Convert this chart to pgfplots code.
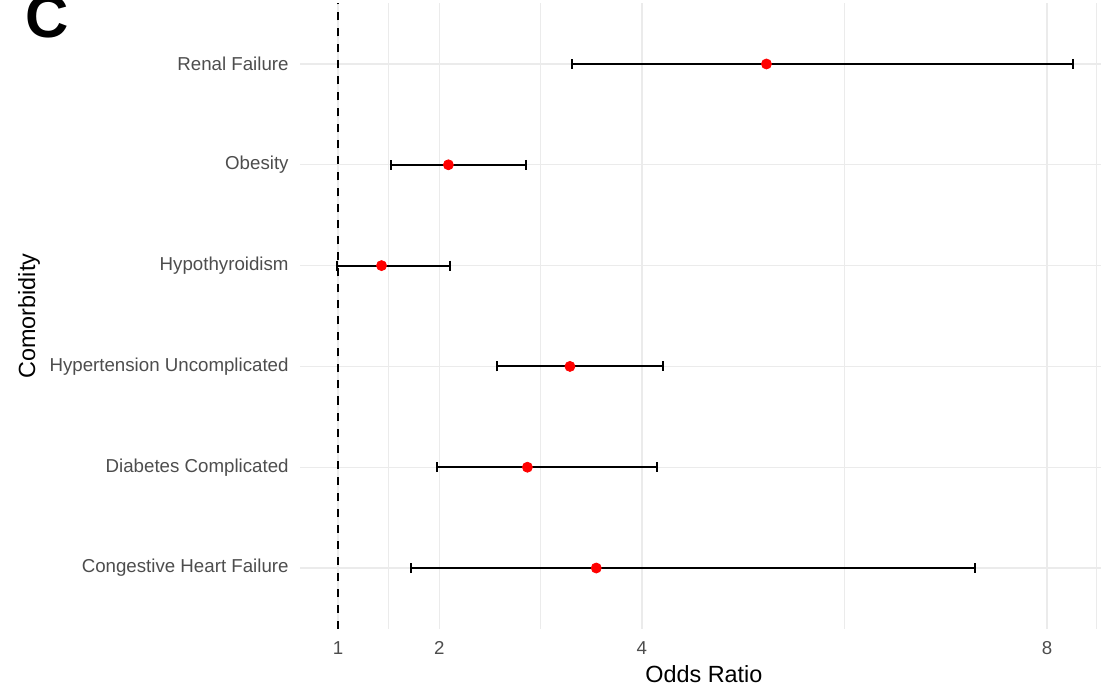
\documentclass[border=0pt]{standalone}
\usepackage{pgfplots}
\pgfplotsset{compat=1.18}
\usepackage{pgfplotstable}
\usepackage{fontspec}
\setmainfont{Liberation Sans}
\definecolor{gridc}{HTML}{EBEBEB}
\definecolor{tickc}{HTML}{4D4D4D}
\pgfplotstableread{
y or lo hi
1 3.55 1.72 7.29
2 2.87 1.98 4.15
3 3.29 2.57 4.21
4 1.43 0.99 2.11
5 2.09 1.52 2.86
6 5.23 3.31 8.26
}\datatab
\begin{document}
\begin{tikzpicture}
\begin{axis}[
  name=ax,
  scale only axis,
  width=403.9pt, height=312.5pt,
  xmin=0.625, xmax=8.6, ymin=0.4, ymax=6.6,
  axis line style={draw=none},
  major tick length=0pt, minor tick length=0pt,
  xtick={1,2,4,8}, xticklabels={1,2,4,8},
  minor xtick={1.5,3,6,8.49},
  ytick={1,2,3,4,5,6},
  yticklabels={Congestive Heart Failure,Diabetes Complicated,Hypertension Uncomplicated,Hypothyroidism,Obesity,Renal Failure},
  grid=both,
  major grid style={draw=gridc, line width=0.7pt},
  minor grid style={draw=gridc, line width=0.55pt},
  ytick style={draw=none}, xtick style={draw=none},
  tick label style={font=\fontsize{9.35}{11}\selectfont, color=tickc, inner sep=0pt},
  xticklabel style={anchor=north, yshift=-6.25pt},
  yticklabel style={anchor=east, xshift=-5.5pt},
  xlabel={Odds Ratio},
  ylabel={Comorbidity},
  label style={font=\fontsize{11.7}{13}\selectfont, color=black, inner sep=0pt},
  xlabel style={at={(axis description cs:0.5,-0.0584)}, anchor=north},
  ylabel style={at={(axis description cs:-0.3214,0.5)}, anchor=south},
  clip=false,
]
\addplot[black, line width=1.1pt, dash pattern=on 4pt off 4pt] coordinates {(1,0.4) (1,6.6)};
\addplot[black, line width=1pt, draw=none, mark=none,
  error bars/.cd, x dir=both, x explicit,
  error bar style={line width=1pt, black},
  error mark options={black, mark size=2.5pt, line width=1pt, rotate=90}]
  table[x=or, y=y, x error plus expr=\thisrow{hi}-\thisrow{or}, x error minus expr=\thisrow{or}-\thisrow{lo}] {\datatab};
\addplot[only marks, mark=*, mark size=2.5pt, color=red, mark options={draw=red, fill=red}]
  table[x=or, y=y] {\datatab};
\node[anchor=base west, inner sep=0pt, font=\fontsize{30}{30}\selectfont\bfseries] at (axis description cs:-0.340,0.9464) {C};
\end{axis}
\pgfresetboundingbox
\path ([shift={(-150pt,-28.25pt)}]ax.south west) rectangle ([shift={(400.5pt,314.25pt)}]ax.south west);
\end{tikzpicture}
\end{document}
